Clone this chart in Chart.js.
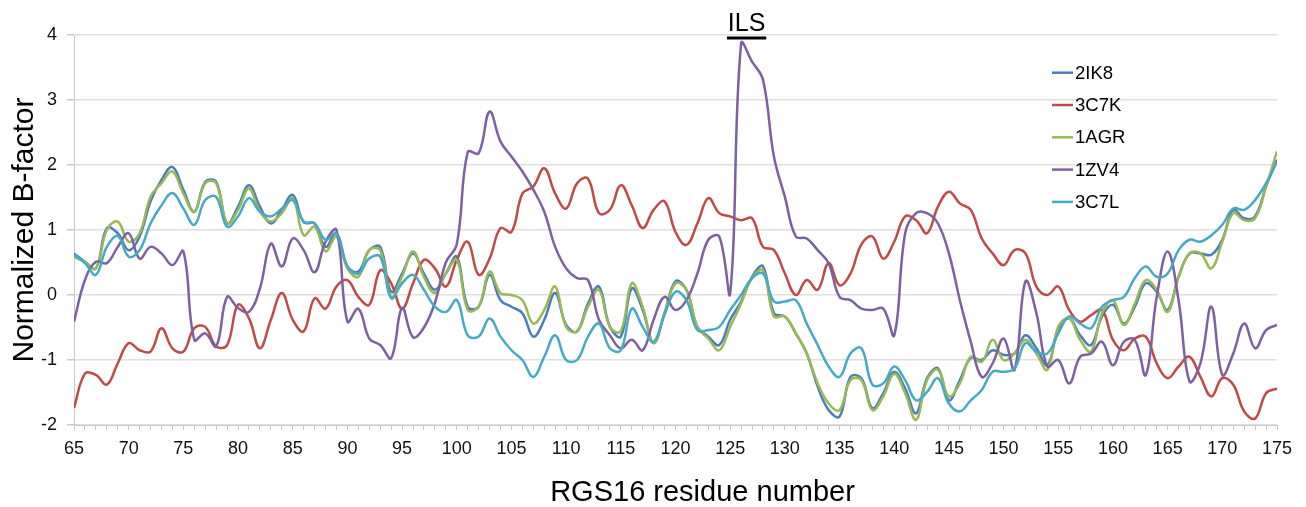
<!DOCTYPE html>
<html>
<head>
<meta charset="utf-8">
<script src="https://cdn.jsdelivr.net/npm/chart.js@4.4.1/dist/chart.umd.min.js"></script>
<style>
  html, body { margin: 0; padding: 0; background: #ffffff; }
  #wrap { width: 1306px; height: 507px; position: relative; }
</style>
</head>
<body>
<div id="wrap"><canvas id="c" width="1306" height="507"></canvas></div>
<script>
// ---- data ----
const residues = [65,66,67,68,69,70,71,72,73,74,75,76,77,78,79,80,81,82,83,84,85,86,87,88,89,90,91,92,93,94,95,96,97,98,99,100,101,102,103,104,105,106,107,108,109,110,111,112,113,114,115,116,117,118,119,120,121,122,123,124,125,126,127,128,129,130,131,132,133,134,135,136,137,138,139,140,141,142,143,144,145,146,147,148,149,150,151,152,153,154,155,156,157,158,159,160,161,162,163,164,165,166,167,168,169,170,171,172,173,174,175];

const s2IK8 = [0.64,0.51,0.41,1.03,0.95,0.69,0.90,1.44,1.77,1.97,1.62,1.28,1.74,1.74,1.10,1.36,1.69,1.36,1.10,1.31,
  1.54,1.12,1.10,0.74,0.95,0.44,0.36,0.69,0.74,0.05,0.33,0.64,0.33,0.08,0.33,0.59,-0.18,-0.18,0.31,-0.08,
  -0.18,-0.28,-0.64,-0.38,0.03,-0.46,-0.56,-0.13,0.13,-0.49,-0.64,0.10,-0.23,-0.74,-0.28,0.21,0.08,-0.49,-0.64,-0.77,
  -0.38,-0.10,0.28,0.44,-0.28,-0.33,-0.59,-0.90,-1.41,-1.77,-1.87,-1.26,-1.28,-1.74,-1.51,-1.18,-1.44,-1.82,-1.28,-1.13,
  -1.62,-1.31,-0.97,-1.00,-0.85,-0.92,-0.90,-0.62,-0.82,-1.08,-0.54,-0.36,-0.62,-0.77,-0.33,-0.15,-0.44,-0.18,0.18,0.05,
  -0.23,0.28,0.64,0.64,0.62,0.85,1.31,1.18,1.21,1.67,2.08];

const s3C7K = [-1.74,-1.21,-1.23,-1.38,-1.05,-0.74,-0.85,-0.87,-0.51,-0.82,-0.87,-0.51,-0.49,-0.79,-0.77,-0.15,-0.36,-0.82,-0.38,0.03,
  -0.38,-0.56,-0.05,-0.21,0.13,0.23,-0.03,-0.15,0.38,0.18,-0.21,0.18,0.54,0.41,0.13,0.54,0.82,0.31,0.56,1.03,
  0.97,1.56,1.67,1.95,1.56,1.33,1.72,1.79,1.26,1.31,1.69,1.38,1.03,1.31,1.44,0.97,0.77,1.10,1.49,1.26,
  1.21,1.15,1.18,0.74,0.69,0.33,0.00,0.23,0.08,0.49,0.15,0.33,0.78,0.90,0.56,0.82,1.21,1.15,0.95,1.36,
  1.59,1.41,1.31,0.87,0.64,0.46,0.69,0.64,0.13,0.00,0.13,-0.23,-0.41,-0.31,-0.23,-0.69,-0.85,-0.67,-0.64,-1.05,
  -1.28,-1.10,-0.95,-1.26,-1.56,-1.28,-1.38,-1.79,-1.90,-1.51,-1.44];

const s1AGR = [0.59,0.51,0.41,1.00,1.13,0.82,0.95,1.51,1.72,1.90,1.56,1.28,1.72,1.72,1.10,1.31,1.64,1.28,1.13,1.26,
  1.49,0.92,1.05,0.67,0.90,0.41,0.28,0.69,0.69,-0.03,0.28,0.67,0.28,0.03,0.33,0.54,-0.23,-0.18,0.36,0.03,
  0.00,-0.08,-0.44,-0.23,0.13,-0.49,-0.56,-0.18,0.08,-0.49,-0.56,0.18,-0.18,-0.74,-0.28,0.18,0.08,-0.49,-0.67,-0.85,
  -0.49,-0.13,0.26,0.38,-0.33,-0.33,-0.59,-0.90,-1.36,-1.67,-1.77,-1.31,-1.31,-1.77,-1.56,-1.21,-1.51,-1.92,-1.31,-1.15,
  -1.56,-1.36,-0.95,-1.03,-0.69,-1.00,-0.90,-0.69,-0.90,-1.15,-0.49,-0.36,-0.69,-0.87,-0.28,-0.08,-0.46,-0.13,0.23,0.08,
  -0.26,0.28,0.64,0.64,0.41,0.82,1.26,1.15,1.18,1.67,2.21];

const s1ZV4 = [-0.41,0.23,0.51,0.49,0.74,0.95,0.56,0.74,0.64,0.46,0.67,-0.69,-0.59,-0.79,-0.03,-0.20,-0.26,0.10,0.79,0.44,
  0.87,0.69,0.35,0.82,1.00,-0.41,-0.21,-0.67,-0.77,-0.97,-0.20,-0.65,-0.50,-0.12,0.50,0.78,2.20,2.18,2.82,2.36,
  2.13,1.90,1.62,1.28,0.74,0.41,0.26,0.23,-0.38,-0.62,-0.82,-0.69,-0.85,-0.38,-0.03,-0.23,-0.08,0.33,0.85,0.90,
  0.03,3.87,3.59,3.31,2.13,1.51,0.90,0.87,0.69,0.49,-0.03,-0.08,-0.21,-0.23,-0.21,-0.62,0.95,1.26,1.26,1.10,
  0.64,-0.08,-0.72,-1.26,-1.05,-0.67,-1.15,0.21,-0.28,-1.10,-1.00,-1.36,-0.95,-0.90,-0.72,-1.08,-0.72,-0.69,-1.23,-0.03,
  0.67,-0.08,-1.33,-1.05,-0.18,-1.23,-0.90,-0.44,-0.82,-0.54,-0.46];

const s3C7L = [0.62,0.49,0.31,0.74,0.91,0.59,0.69,1.10,1.38,1.57,1.33,1.08,1.46,1.51,1.05,1.21,1.49,1.28,1.21,1.33,
  1.46,1.13,1.10,0.85,0.95,0.44,0.33,0.56,0.59,-0.05,0.18,0.31,0.08,-0.18,-0.26,-0.08,-0.62,-0.64,-0.36,-0.64,
  -0.85,-1.00,-1.26,-0.95,-0.62,-1.00,-1.00,-0.64,-0.44,-0.82,-0.85,-0.21,-0.49,-0.72,-0.30,0.05,-0.08,-0.54,-0.54,-0.49,
  -0.23,0.00,0.26,0.33,-0.10,-0.10,-0.08,-0.44,-0.77,-1.10,-1.26,-0.90,-0.82,-1.38,-1.36,-1.10,-1.31,-1.62,-1.49,-1.28,
  -1.67,-1.79,-1.62,-1.46,-1.18,-1.18,-1.13,-0.74,-0.87,-0.90,-0.59,-0.33,-0.44,-0.51,-0.18,-0.08,-0.03,0.26,0.44,0.28,
  0.33,0.69,0.85,0.82,0.92,1.08,1.33,1.31,1.46,1.72,2.05];

const seriesNames = ['2IK8', '3C7K', '1AGR', '1ZV4', '3C7L'];
const yTicks = [-2, -1, 0, 1, 2, 3, 4];
const xTickStep = 5;
const ilsLabel = 'ILS';
const ilsRange = [124.7, 128.3];
const xTitle = 'RGS16 residue number';
const yTitle = 'Normalized B-factor';

// ---- styling ----
const colors = ['#4a7ebb', '#be4b48', '#98b954', '#7d60a0', '#46aac5'];
const FONT = "'Liberation Sans', Arial, sans-serif";
const allSeries = [s2IK8, s3C7K, s1AGR, s1ZV4, s3C7L];

const datasets = allSeries.map((arr, i) => ({
  label: seriesNames[i],
  data: residues.map((r, j) => ({ x: r, y: arr[j] })),
  borderColor: colors[i],
  backgroundColor: colors[i],
  borderWidth: 2.5,
  pointRadius: 0,
  tension: 0.4,
  fill: false,
  order: allSeries.length - i
}));

const overlayPlugin = {
  id: 'overlay',
  afterDraw(chart) {
    const ctx = chart.ctx;
    const xs = chart.scales.x;
    const area = chart.chartArea;
    ctx.save();
    // legend
    const lx0 = 1052, lx1 = 1073, ly0 = 72.7, lstep = 32.3;
    chart.data.datasets.forEach((ds, i) => {
      const y = ly0 + i * lstep;
      ctx.strokeStyle = ds.borderColor;
      ctx.lineWidth = 2.5;
      ctx.beginPath();
      ctx.moveTo(lx0, y);
      ctx.lineTo(lx1, y);
      ctx.stroke();
      ctx.fillStyle = '#000';
      ctx.font = '18.5px ' + FONT;
      ctx.textBaseline = 'middle';
      ctx.textAlign = 'left';
      ctx.fillText(ds.label, lx1 + 2, y + 1);
    });
    // ILS annotation
    const a = xs.getPixelForValue(ilsRange[0]);
    const b = xs.getPixelForValue(ilsRange[1]);
    ctx.fillStyle = '#000';
    ctx.fillRect(a, area.top + 1.5, b - a, 3);
    ctx.font = '25px ' + FONT;
    ctx.textAlign = 'center';
    ctx.textBaseline = 'alphabetic';
    ctx.fillText(ilsLabel, (a + b) / 2, area.top - 4);
    // x axis title
    ctx.font = '29px ' + FONT;
    ctx.fillText(xTitle, (area.left + area.right) / 2 + 27, 501);
    ctx.restore();
  }
};

new Chart(document.getElementById('c'), {
  type: 'line',
  data: { datasets },
  plugins: [overlayPlugin],
  options: {
    responsive: false,
    animation: false,
    devicePixelRatio: 1,
    layout: { padding: { top: 35, right: 29, left: 0, bottom: 0 } },
    plugins: { legend: { display: false }, tooltip: { enabled: false } },
    scales: {
      x: {
        type: 'linear',
        min: residues[0],
        max: residues[residues.length - 1],
        afterFit: s => { s.height = 82; },
        afterBuildTicks: s => { s.ticks = residues.map(v => ({ value: v })); },
        ticks: {
          autoSkip: false,
          maxRotation: 0,
          padding: 8,
          color: '#111',
          font: { family: FONT, size: 18 },
          callback: v => (v % xTickStep === 0 ? String(v) : '')
        },
        grid: { drawOnChartArea: false, drawTicks: true, tickLength: 5, tickColor: '#c8c8c8', tickWidth: 1 },
        border: { display: true, color: '#c8c8c8', width: 1 }
      },
      y: {
        min: yTicks[0],
        max: yTicks[yTicks.length - 1],
        afterFit: s => { s.width = 74; },
        afterBuildTicks: s => { s.ticks = yTicks.map(v => ({ value: v })); },
        ticks: {
          padding: 10,
          color: '#111',
          font: { family: FONT, size: 18 }
        },
        grid: { color: '#e0e0e0', lineWidth: 1.5, drawTicks: true, tickLength: 7, tickColor: '#c8c8c8' },
        border: { display: true, color: '#c8c8c8', width: 1 },
        title: {
          display: true,
          text: yTitle,
          color: '#000',
          font: { family: FONT, size: 30 },
          padding: { top: 7, bottom: 0 }
        }
      }
    }
  }
});
</script>
</body>
</html>
